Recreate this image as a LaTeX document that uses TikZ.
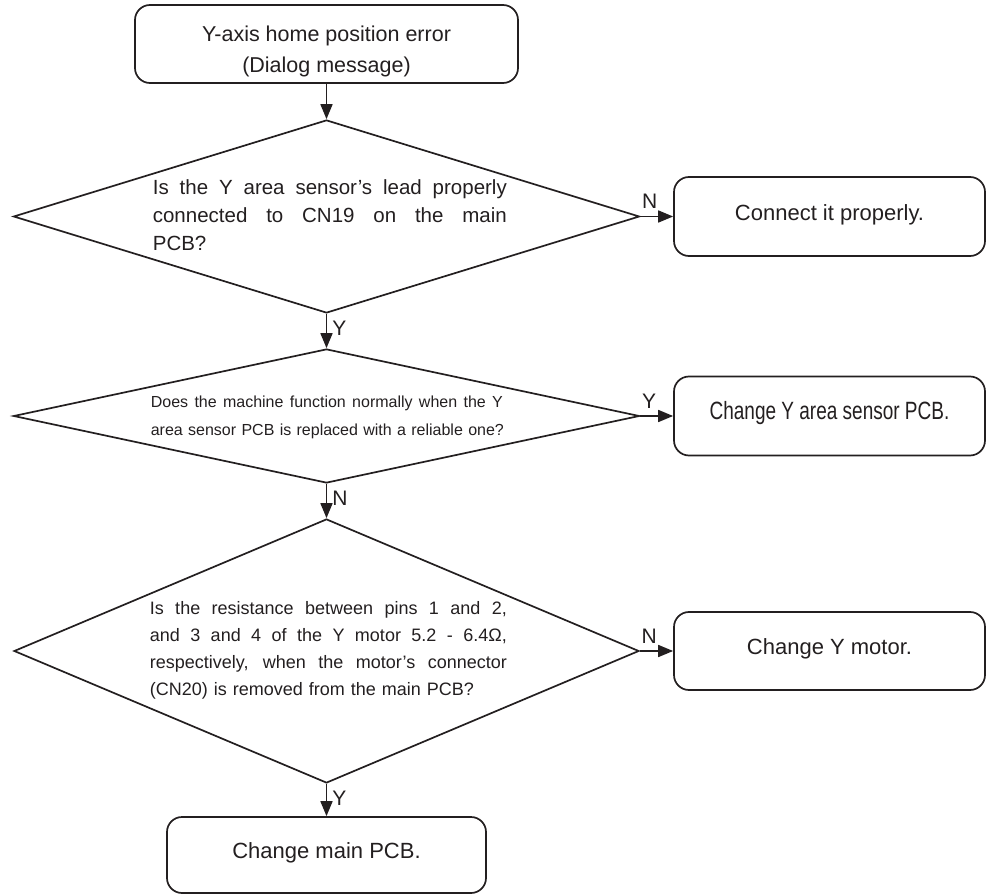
\documentclass[tikz,border=0pt]{standalone}
\usepackage{fontspec}
\setmainfont{Liberation Sans}
\newfontfamily\condfont[FakeStretch=0.76]{Liberation Sans}
\usetikzlibrary{shapes.geometric,arrows.meta}
\definecolor{ink}{RGB}{35,31,32}
\newcommand{\jline}[2]{{\spaceskip=\fontdimen2\font plus 1fill\relax\makebox[#1][s]{#2}}}
\begin{document}
\begin{tikzpicture}[x=1pt,y=-1pt,line width=1.7pt,color=ink,
  box/.style={draw,rounded corners=15pt,inner sep=0pt,text height=0.72em,text depth=0pt},
  dia/.style={draw,diamond,inner sep=0pt},
  qtext/.style={inner sep=0pt,anchor=base west},
  lab/.style={inner sep=0pt,font=\fontsize{21}{21}\selectfont},
  arr/.style={-{Triangle[length=15pt,width=12pt]}}]
\path[use as bounding box] (0,0) rectangle (986,896);

% start box
\node[draw,rounded corners=15pt,inner sep=0pt,minimum width=383pt,minimum height=78pt] (b0) at (326.5,44) {};
\node[inner sep=0pt,align=center,font=\fontsize{21.5}{31}\selectfont] (t0) at (326.5,51.5) {Y-axis home position error\\(Dialog message)};

% decisions
\node[dia,minimum width=626pt,minimum height=193pt] (d1) at (326.5,216.5) {};
\node[qtext,text width=354pt,font=\fontsize{20.5}{28}\selectfont] (q1) at (152,195)
  {\jline{354pt}{Is the Y area sensor's lead properly}\\
   \jline{354pt}{connected to CN19 on the main}\\
   \mbox{PCB?}};

\node[dia,minimum width=626pt,minimum height=134pt] (d2) at (326.5,416) {};
\node[qtext,text width=352pt,font=\fontsize{16}{28}\selectfont] (q2) at (150,407)
  {\jline{352pt}{Does the machine function normally when the Y}\\
   \mbox{area sensor PCB is replaced with a reliable one?}};

\node[dia,minimum width=625pt,minimum height=264pt] (d3) at (326.5,651) {};
\node[qtext,text width=357pt,font=\fontsize{18}{27}\selectfont] (q3) at (149,614)
  {\jline{357pt}{Is the resistance between pins 1 and 2,}\\
   \jline{357pt}{and 3 and 4 of the Y motor 5.2 - 6.4Ω,}\\
   \jline{357pt}{respectively, when the motor's connector}\\
   \mbox{(CN20) is removed from the main PCB?}};

% action boxes
\node[box,minimum width=311pt,minimum height=79pt,font=\fontsize{22}{22}\selectfont] (b1) at (829.5,216.5) {Connect it properly.};
\node[box,minimum width=311pt,minimum height=79pt,font=\condfont\fontsize{25}{25}\selectfont] (b2) at (829.5,416) {Change Y area sensor PCB.};
\node[box,minimum width=311pt,minimum height=78pt,font=\fontsize{22}{22}\selectfont] (b3) at (829.5,651) {Change Y motor.};
\node[box,minimum width=319pt,minimum height=76pt,font=\fontsize{22}{22}\selectfont] (b4) at (326.5,855) {Change main PCB.};

% connectors
\draw[arr] (b0.south) -- (d1.north);
\draw[arr] (d1.south) -- (d2.north);
\draw[arr] (d2.south) -- (d3.north);
\draw[arr] (d3.south) -- (b4.north);
\draw[arr] (d1.east) -- (b1.west);
\draw[arr] (d2.east) -- (b2.west);
\draw[arr] (d3.east) -- (b3.west);

% labels
\node[lab,anchor=south west] (l1) at ([xshift=1pt,yshift=7pt]d1.east) {N};
\node[lab,anchor=south west] (l2) at ([xshift=1pt,yshift=7pt]d2.east) {Y};
\node[lab,anchor=south west] (l3) at ([xshift=1pt,yshift=7pt]d3.east) {N};
\node[lab,anchor=north west] (l4) at ([xshift=5pt,yshift=-6pt]d1.south) {Y};
\node[lab,anchor=north west] (l5) at ([xshift=5pt,yshift=-6pt]d2.south) {N};
\node[lab,anchor=north west] (l6) at ([xshift=5pt,yshift=-6pt]d3.south) {Y};
\end{tikzpicture}
\end{document}
